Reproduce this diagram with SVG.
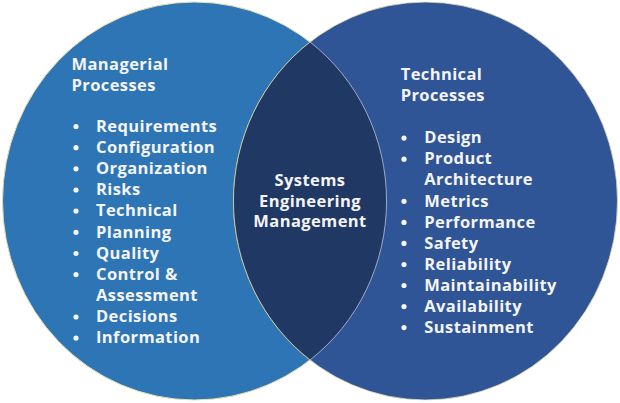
<svg xmlns="http://www.w3.org/2000/svg" width="620" height="403" viewBox="0 0 620 403">
  <style>
    .t { font-family: "Open Sans", "Liberation Sans", sans-serif; font-weight: 700; font-size: 16.5px; letter-spacing: 0.4px; fill: #f4f4f4; }
    .c { text-anchor: middle; }
    .b { fill: #f4f4f4; }
  </style>
  <rect width="620" height="403" fill="#ffffff"/>
  <g id="managerial">
    <ellipse cx="194.5" cy="201" rx="192" ry="199" fill="#2E75B6" stroke="#e8e2b0" stroke-width="1"/>
  </g>
  <g id="technical">
    <ellipse cx="425.5" cy="201" rx="192" ry="199" fill="#2F5597" stroke="#e8e2b0" stroke-width="0.8"/>
  </g>
  <g id="sem">
    <path d="M310 42 A192 199 0 0 0 310 360 A192 199 0 0 0 310 42 Z" fill="#203864"/>
    <path d="M310 42 A192 199 0 0 0 310 360" fill="none" stroke="#d8d09a" stroke-width="0.9"/>
    <path d="M310 360 A192 199 0 0 0 310 42" fill="none" stroke="#a9b5cc" stroke-width="0.9"/>
    <text class="t c" x="310" y="186">Systems</text>
    <text class="t c" x="310" y="206.5">Engineering</text>
    <text class="t c" x="310" y="227">Management</text>
  </g>
  <g id="managerial-text">
    <text class="t" x="71.5" y="70">Managerial</text>
    <text class="t" x="71.5" y="90.5">Processes</text>
    <g class="b">
      <circle cx="76" cy="126.5" r="2.6"/>
      <circle cx="76" cy="147.7" r="2.6"/>
      <circle cx="76" cy="168.8" r="2.6"/>
      <circle cx="76" cy="190" r="2.6"/>
      <circle cx="76" cy="211.1" r="2.6"/>
      <circle cx="76" cy="232.3" r="2.6"/>
      <circle cx="76" cy="253.5" r="2.6"/>
      <circle cx="76" cy="274.6" r="2.6"/>
      <circle cx="76" cy="317" r="2.6"/>
      <circle cx="76" cy="338.1" r="2.6"/>
    </g>
    <text class="t" x="96" y="131.7">Requirements</text>
    <text class="t" x="96" y="152.9">Configuration</text>
    <text class="t" x="96" y="174">Organization</text>
    <text class="t" x="96" y="195.2">Risks</text>
    <text class="t" x="96" y="216.3">Technical</text>
    <text class="t" x="96" y="237.5">Planning</text>
    <text class="t" x="96" y="258.7">Quality</text>
    <text class="t" x="96" y="279.8">Control &amp;</text>
    <text class="t" x="96" y="301">Assessment</text>
    <text class="t" x="96" y="322.2">Decisions</text>
    <text class="t" x="96" y="343.3">Information</text>
  </g>
  <g id="technical-text">
    <text class="t" x="400.7" y="80">Technical</text>
    <text class="t" x="400.7" y="100.7">Processes</text>
    <g class="b">
      <circle cx="404" cy="138.1" r="2.6"/>
      <circle cx="404" cy="159.2" r="2.6"/>
      <circle cx="404" cy="201.3" r="2.6"/>
      <circle cx="404" cy="222.4" r="2.6"/>
      <circle cx="404" cy="243.4" r="2.6"/>
      <circle cx="404" cy="264.5" r="2.6"/>
      <circle cx="404" cy="285.5" r="2.6"/>
      <circle cx="404" cy="306.6" r="2.6"/>
      <circle cx="404" cy="327.6" r="2.6"/>
    </g>
    <text class="t" x="424.3" y="143.3">Design</text>
    <text class="t" x="424.3" y="164.4">Product</text>
    <text class="t" x="424.3" y="185.4">Architecture</text>
    <text class="t" x="424.3" y="206.5">Metrics</text>
    <text class="t" x="424.3" y="227.5">Performance</text>
    <text class="t" x="424.3" y="248.6">Safety</text>
    <text class="t" x="424.3" y="269.6">Reliability</text>
    <text class="t" x="424.3" y="290.7">Maintainability</text>
    <text class="t" x="424.3" y="311.7">Availability</text>
    <text class="t" x="424.3" y="332.8">Sustainment</text>
  </g>
</svg>
